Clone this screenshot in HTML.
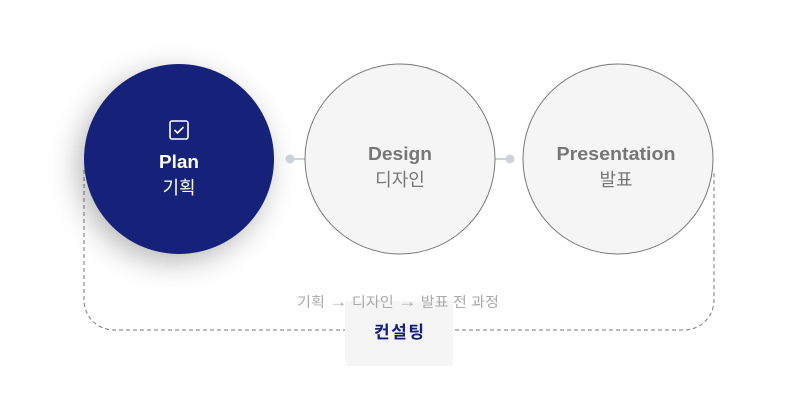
<!DOCTYPE html>
<html><head><meta charset="utf-8"><style>
body{margin:0;width:800px;height:400px;background:#fff;overflow:hidden;font-family:"Liberation Sans","Noto Sans CJK KR",sans-serif;}
svg{position:absolute;left:0;top:0}
</style></head><body>
<svg width="800" height="400" xmlns="http://www.w3.org/2000/svg">
<defs><filter id="sh" x="-50%" y="-50%" width="200%" height="200%"><feDropShadow dx="-6" dy="8" stdDeviation="14" flood-color="#000" flood-opacity="0.28"/></filter></defs>
<path d="M84 170 V300 A30 30 0 0 0 114 330 H684 A30 30 0 0 0 714 300 V170" fill="none" stroke="#777" stroke-width="1" stroke-dasharray="4 3"/>
<rect x="345" y="301" width="108" height="65" fill="#f5f5f5"/>
<line x1="290" y1="159" x2="305" y2="159" stroke="#cfd3dc" stroke-width="2"/>
<circle cx="290" cy="159" r="4.5" fill="#cfd3dc"/>
<line x1="495" y1="159" x2="510" y2="159" stroke="#cfd3dc" stroke-width="2"/>
<circle cx="510" cy="159" r="4.5" fill="#cfd3dc"/>
<circle cx="400" cy="159" r="95" fill="#f5f5f5" stroke="#777" stroke-width="1"/>
<circle cx="618" cy="159" r="95" fill="#f5f5f5" stroke="#777" stroke-width="1"/>
<circle cx="179" cy="159" r="95" fill="#15207a" filter="url(#sh)"/>
<rect x="170" y="121" width="18" height="18" rx="2" fill="none" stroke="#fff" stroke-width="1.6"/>
<path d="M174.5 130 l3 3 l6 -6" fill="none" stroke="#fff" stroke-width="1.6"/>
<text x="179" y="168" text-anchor="middle" font-size="18" font-weight="bold" fill="#fff" textLength="40" lengthAdjust="spacingAndGlyphs">Plan</text>
<text x="179" y="194" text-anchor="middle" font-size="18" fill="#fff">기획</text>
<text x="400" y="160" text-anchor="middle" font-size="18" font-weight="bold" fill="#777" textLength="64" lengthAdjust="spacingAndGlyphs">Design</text>
<text x="400" y="186" text-anchor="middle" font-size="18" fill="#777">디자인</text>
<text x="616" y="160" text-anchor="middle" font-size="18" font-weight="bold" fill="#777" textLength="119" lengthAdjust="spacingAndGlyphs">Presentation</text>
<text x="616" y="186" text-anchor="middle" font-size="18" fill="#777">발표</text>
<text x="398" y="307" text-anchor="middle" font-size="14" fill="#aaa" textLength="202" lengthAdjust="spacingAndGlyphs">기획 <tspan font-size="17">→</tspan> 디자인 <tspan font-size="17">→</tspan> 발표 전 과정</text>
<text x="399" y="338" text-anchor="middle" font-size="17" font-weight="bold" fill="#15207a" textLength="50">컨설팅</text>
</svg>
</body></html>
